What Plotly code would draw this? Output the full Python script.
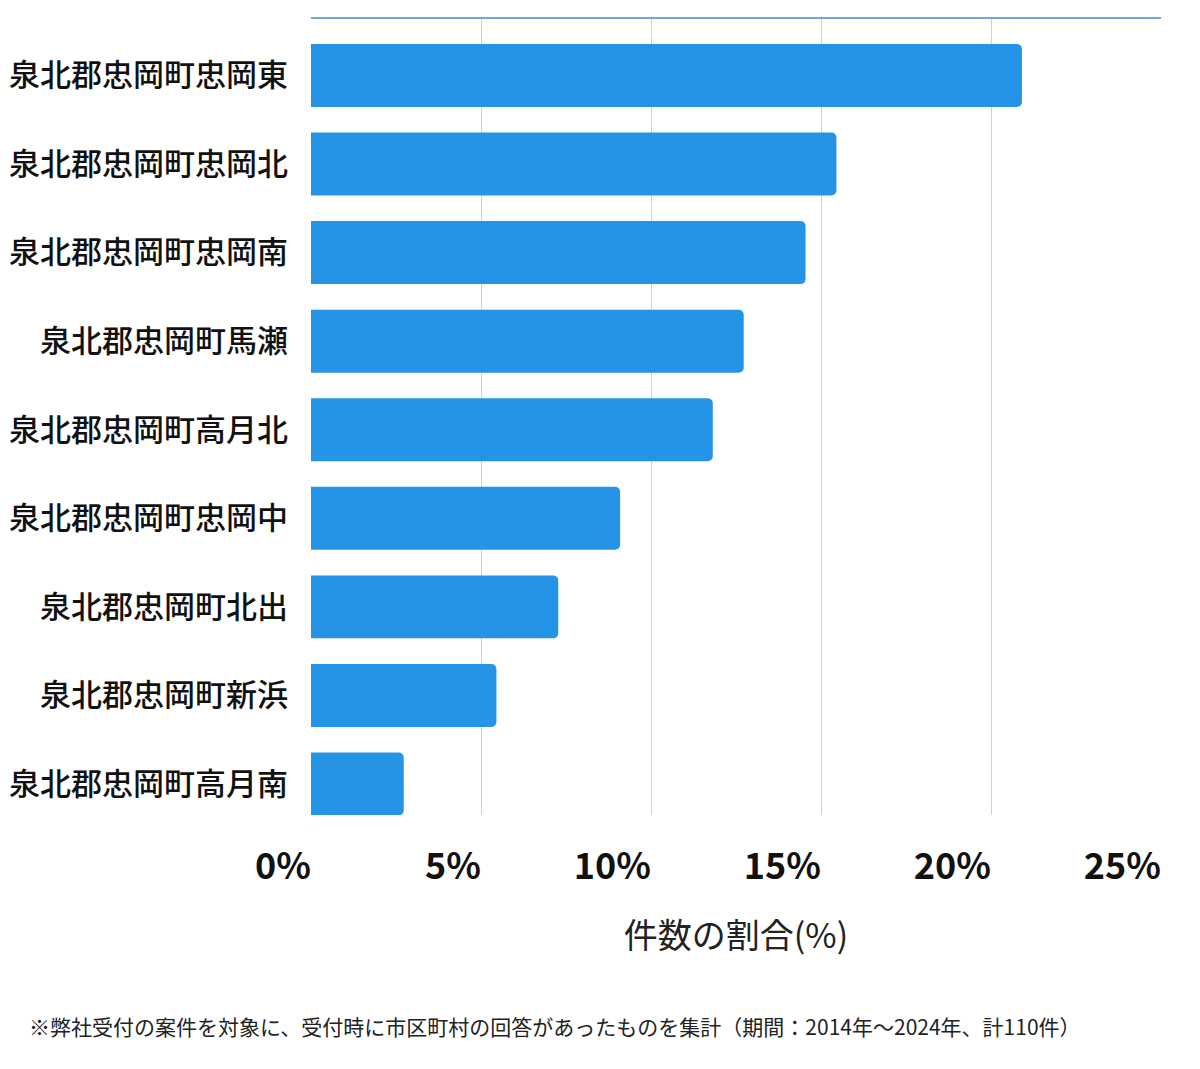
import plotly.graph_objects as go

categories = ["泉北郡忠岡町忠岡東", "泉北郡忠岡町忠岡北", "泉北郡忠岡町忠岡南", "泉北郡忠岡町馬瀬",
              "泉北郡忠岡町高月北", "泉北郡忠岡町忠岡中", "泉北郡忠岡町北出", "泉北郡忠岡町新浜",
              "泉北郡忠岡町高月南"]
counts = [23, 17, 16, 14, 13, 10, 8, 6, 3]
total = 110
shares = [c / total * 100 for c in counts]
tick_vals = [0, 5, 10, 15, 20, 25]
tick_text = ["0%", "5%", "10%", "15%", "20%", "25%"]
x_title = "件数の割合(%)"
footnote = "※弊社受付の案件を対象に、受付時に市区町村の回答があったものを集計（期間：2014年～2024年、計110件）"

FONT = "Noto Sans CJK JP"

fig = go.Figure(go.Bar(
    x=shares, y=categories, orientation="h",
    marker=dict(color="#2694E6", line=dict(width=0)),
    hoverinfo="skip",
))

fig.update_layout(
    width=1200, height=1069,
    margin=dict(l=311, r=39, t=18, b=254),
    paper_bgcolor="white", plot_bgcolor="white",
    bargap=0.289, barcornerradius=5,
    showlegend=False,
    font=dict(family=FONT, color="#222222"),
    xaxis=dict(
        range=[0, 25], tickvals=tick_vals, ticktext=tick_text,
        showgrid=True, gridcolor="#d0d0d0", gridwidth=1,
        zeroline=False, showline=False, automargin=False,
        ticks="", ticklabelposition="outside left", ticklabelstandoff=27,
        tickfont=dict(family=FONT, size=36, color="#111111", weight="bold"),
        title=dict(text=x_title, font=dict(family=FONT, size=34, color="#222222"), standoff=36),
        fixedrange=True,
    ),
    yaxis=dict(
        range=[8.35, -0.649], showgrid=False, zeroline=False, showline=False,
        automargin=False,
        ticks="", ticklabelstandoff=22,
        tickfont=dict(family=FONT, size=31, color="#111111", weight=500),
        fixedrange=True,
    ),
    shapes=[dict(type="line", xref="paper", yref="paper", x0=0, x1=1, y0=1, y1=1,
                 line=dict(color="#3a8fd6", width=1.5))],
    annotations=[dict(text=footnote, xref="paper", yref="paper", x=-0.334, y=-0.265,
                      xanchor="left", yanchor="middle", showarrow=False,
                      font=dict(family=FONT, size=21, color="#222222"))],
)

fig.write_html("out.html")
